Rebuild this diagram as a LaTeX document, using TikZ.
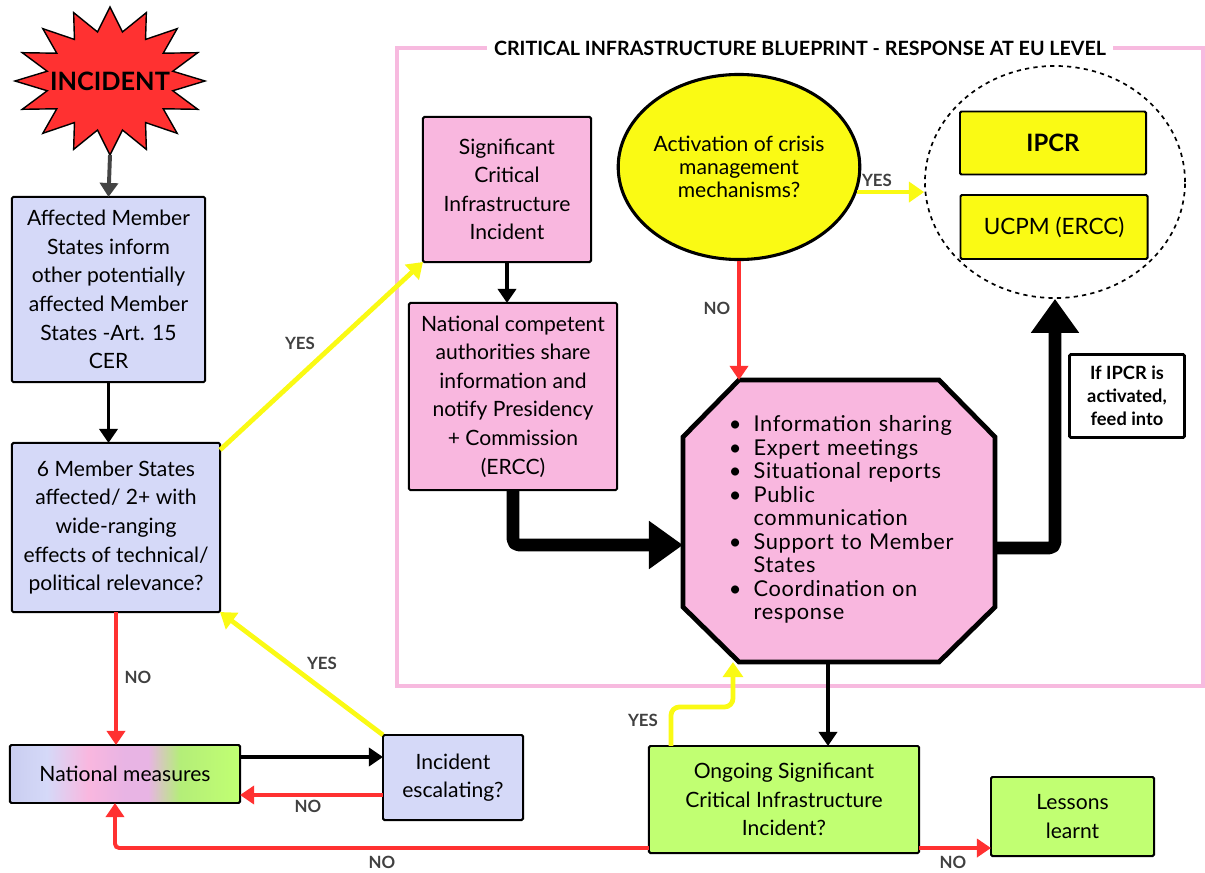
\documentclass[tikz,border=0pt]{standalone}
\usepackage{fontspec}
\setmainfont{Lato}
\usetikzlibrary{shapes.geometric,arrows.meta,calc}

\definecolor{cilav}{HTML}{D5D9F8}
\definecolor{natlav}{HTML}{C9CDF0}
\definecolor{cipink}{HTML}{F9B7DF}
\definecolor{natpink}{HTML}{E8B4E4}
\definecolor{cigreen}{HTML}{C1FF72}
\definecolor{natgreen}{HTML}{B4EE78}
\definecolor{ciyellow}{HTML}{FAFA14}
\definecolor{cired}{HTML}{FF3131}
\definecolor{framepink}{HTML}{F7BADF}
\definecolor{labelgray}{HTML}{404040}
\definecolor{arrowgray}{HTML}{444444}

\pgfdeclarehorizontalshading{natshade}{100bp}{color(0bp)=(natlav); color(25bp)=(natlav);
  color(33bp)=(cilav); color(42bp)=(cipink); color(50bp)=(natpink); color(55bp)=(natpink);
  color(62bp)=(natgreen); color(75bp)=(cigreen); color(100bp)=(cigreen)}

\begin{document}
\begin{tikzpicture}[x=0.025cm, y=-0.025cm,
    box/.style={draw=black, line width=1.4pt, rounded corners=1pt, inner sep=0pt,
      outer sep=0pt, align=center, font=\fontsize{15}{20.3}\selectfont},
    bluebox/.style={box, fill=cilav},
    pinkbox/.style={box, fill=cipink},
    greenbox/.style={box, fill=cigreen},
    yellowbox/.style={box, fill=ciyellow},
    lbl/.style={font=\fontsize{12}{14}\selectfont\bfseries, text=labelgray},
    arr/.style={line width=2.6pt, -{Triangle[width=0.45cm,length=0.35cm]}},
    blackarrow/.style={arr, draw=black},
    grayarrow/.style={arr, draw=arrowgray, line width=2.8pt},
    redarrow/.style={arr, draw=cired, line width=2.8pt, rounded corners=3pt},
    yellowarrow/.style={draw=ciyellow, line width=3.4pt, rounded corners=6pt,
      -{Triangle[width=0.5cm,length=0.38cm]}},
    thickarrow/.style={draw=black, line width=9pt, line join=round, rounded corners=4pt,
      -{Triangle[width=1.15cm,length=0.85cm]}},
  ]
  \useasboundingbox (0,0) rectangle (1205,873);

  % EU level frame
  \draw[framepink, line width=2.2pt] (397,48) rectangle (1203,686);
  \node[fill=white, inner xsep=5pt, inner ysep=2pt, font=\fontsize{14}{16}\selectfont\bfseries]
    (frametitle) at (800,48) {CRITICAL INFRASTRUCTURE BLUEPRINT - RESPONSE AT EU LEVEL};

  % Incident star
  \draw[fill=cired, draw=black, line width=1pt, line join=miter]
    plot[samples at={0,...,31}, variable=\k]
    ({110+(isodd(\k) ? 64 : 95)*cos(90+11.25*\k)}, {81-(isodd(\k) ? 50 : 74)*sin(90+11.25*\k)})
    -- cycle;
  \node[font=\fontsize{18}{20}\selectfont\bfseries] (incident) at (110,81) {INCIDENT};
  \coordinate (startip) at (110,155);

  % National level
  \node[bluebox, minimum width=4.825cm, minimum height=4.625cm] (affected) at (108.5,289.5)
    {Affected Member\\States inform\\other potentially\\affected Member\\States -Art. 15\\CER};
  \node[bluebox, minimum width=5.2cm, minimum height=4.225cm] (sixms) at (116,527.5)
    {6 Member States\\affected/ 2+ with\\wide-ranging\\effects of technical/\\political relevance?};
  \node[box, shade, shading=natshade, minimum width=5.75cm, minimum height=1.45cm] (natm)
    at (125,774) {National measures};
  \node[bluebox, minimum width=3.5cm, minimum height=2.125cm] (escal) at (453,777.5)
    {Incident\\escalating?};

  % EU level
  \node[pinkbox, minimum width=4.2cm, minimum height=3.625cm] (sci) at (507,189.5)
    {Significant\\Critical\\Infrastructure\\Incident};
  \node[pinkbox, minimum width=5.2cm, minimum height=4.675cm] (nca) at (513,396.5)
    {National competent\\authorities share\\information and\\notify Presidency\\+ Commission\\(ERCC)};
  \node[ellipse, draw=black, line width=2.2pt, fill=ciyellow, inner sep=0pt, align=center,
    font=\fontsize{15}{16.5}\selectfont, minimum width=5.2cm, minimum height=4.625cm]
    (crisis) at (739,167) {Activation of crisis\\management\\mechanisms?};
  \node[ellipse, draw=black, dashed, line width=1.2pt, inner sep=0pt,
    minimum width=6.5cm, minimum height=5.8cm] (ipcrcircle) at (1055,182) {};
  \node[yellowbox, minimum width=4.65cm, minimum height=1.575cm,
    font=\fontsize{17}{20}\selectfont\bfseries] (ipcr) at (1053,143) {IPCR};
  \node[yellowbox, minimum width=4.675cm, minimum height=1.6cm,
    font=\fontsize{16}{20}\selectfont] (ucpm) at (1054,227) {UCPM (ERCC)};

  % Response octagon
  \draw[fill=cipink, draw=black, line width=3.4pt]
    (683,437) -- (739,380) -- (939,380) -- (995,437) -- (995,607) -- (939,662)
    -- (739,662) -- (683,607) -- cycle;
  \node[inner sep=0pt, outer sep=0pt, minimum width=7.8cm, minimum height=7.05cm,
    text width=5.5cm, align=left,
    font=\fontsize{15.5}{16.7}\selectfont\addfontfeature{LetterSpace=3}] (actions) at (839,521)
    {\begin{tabular}{@{}l@{\hspace{0.3cm}}l@{}}
      \textbullet & Information sharing\\
      \textbullet & Expert meetings\\
      \textbullet & Situational reports\\
      \textbullet & Public\\
                  & communication\\
      \textbullet & Support to Member\\
                  & States\\
      \textbullet & Coordination on\\
                  & response
    \end{tabular}};
  \node[box, fill=white, line width=2pt, minimum width=2.875cm, minimum height=2.075cm,
    font=\fontsize{13}{16.5}\selectfont\bfseries] (feed) at (1127,396)
    {If IPCR is\\activated,\\feed into};

  % Outcome
  \node[greenbox, minimum width=6.75cm, minimum height=2.675cm] (ongoing) at (784,799.5)
    {Ongoing Significant\\Critical Infrastructure\\Incident?};
  \node[greenbox, minimum width=4.075cm, minimum height=1.975cm] (lessons) at (1072.5,816.5)
    {Lessons\\learnt};

  % Connectors
  \draw[grayarrow] (startip) -- (affected.north);
  \draw[blackarrow] (affected.south) -- (affected.south |- sixms.north);
  \draw[redarrow] (sixms.south) -- (sixms.south |- natm.north);
  \draw[blackarrow] ([yshift=0.425cm]natm.east) -- ([yshift=0.425cm]natm.east -| escal.west);
  \draw[redarrow] ([yshift=-0.4375cm]escal.west) -- ([yshift=-0.4375cm]escal.west -| natm.east);
  \draw[yellowarrow] (escal.north west) -- (sixms.south east);
  \draw[yellowarrow] ([yshift=-0.175cm]sixms.north east) -- (sci.south west);
  \draw[blackarrow] (sci.south) -- (sci.south |- nca.north);
  \draw[thickarrow] (nca.south) |- ([yshift=-0.6cm]actions.west);
  \draw[redarrow] (crisis.south) -- (crisis.south |- actions.north);
  \draw[yellowarrow] (crisis.-12) -- (crisis.-12 -| ipcrcircle.west);
  \draw[thickarrow] ([yshift=-0.675cm]actions.east) -| (ipcrcircle.south);
  \draw[blackarrow] ([xshift=-0.275cm]actions.south) -- ([xshift=-0.275cm]actions.south |- ongoing.north);
  \draw[yellowarrow] ([xshift=0.55cm]ongoing.north west) -- ++(0,-39)
    -| ([xshift=-2.65cm]actions.south);
  \draw[redarrow] ([yshift=0.125cm]ongoing.south east) -- ([yshift=0.125cm]ongoing.south east -| lessons.west);
  \draw[redarrow] ([yshift=0.125cm]ongoing.south west) -| ([xshift=-0.25cm]natm.south);

  % Labels
  \node[lbl] (yessci) at (300,343) {YES};
  \node[lbl] (nonat) at (138,677) {NO};
  \node[lbl] (yesesc) at (322,663) {YES};
  \node[lbl] (noesc) at (308,806) {NO};
  \node[lbl] (noongoing) at (382,862) {NO};
  \node[lbl] (yescrisis) at (877,180) {YES};
  \node[lbl] (nocrisis) at (717,308) {NO};
  \node[lbl] (yesongoing) at (643,720) {YES};
  \node[lbl] (nolessons) at (953,862) {NO};
\end{tikzpicture}
\end{document}
